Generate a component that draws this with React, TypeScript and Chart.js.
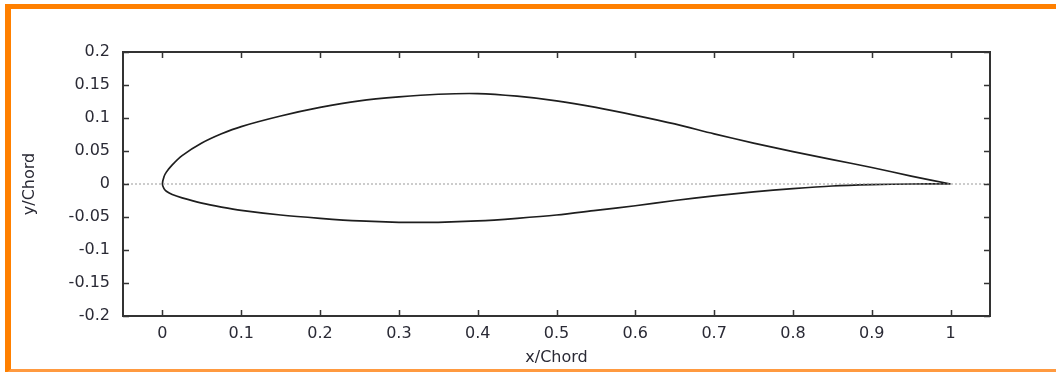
import React, { useEffect, useRef } from "react";
import { Chart, registerables } from "chart.js";

Chart.register(...registerables);

// Axis ticks
const xTicks = [0, 0.1, 0.2, 0.3, 0.4, 0.5, 0.6, 0.7, 0.8, 0.9, 1];
const yTicks = [-0.2, -0.15, -0.1, -0.05, 0, 0.05, 0.1, 0.15, 0.2];
const xRange = [-0.05, 1.05];
const yRange = [-0.2, 0.2];

// Airfoil surfaces (x/Chord, y/Chord)
const stationX = [0, 0.002, 0.005, 0.0125, 0.025, 0.05, 0.075, 0.1, 0.15, 0.2, 0.25, 0.3, 0.35, 0.4, 0.45, 0.5, 0.55, 0.6, 0.65, 0.7, 0.75, 0.8, 0.85, 0.9, 0.95, 1.0];
const upperY = [0, 0.011, 0.018, 0.029, 0.043, 0.062, 0.076, 0.087, 0.103, 0.116, 0.126, 0.132, 0.136, 0.137, 0.133, 0.126, 0.116, 0.104, 0.091, 0.076, 0.062, 0.049, 0.037, 0.025, 0.012, 0.0];
const lowerY = [0, -0.007, -0.011, -0.016, -0.021, -0.029, -0.035, -0.04, -0.047, -0.052, -0.056, -0.058, -0.058, -0.056, -0.052, -0.047, -0.04, -0.033, -0.025, -0.018, -0.012, -0.007, -0.003, -0.001, 0.0, 0.0];

// Chord line
const chordX = [-0.05, 1.05];
const chordY = [0, 0];

const fmt = (v: number) => String(Math.round(v * 100) / 100);
const tickFont = { family: "'DejaVu Sans', sans-serif", size: 16 };
const titleFont = { family: "'DejaVu Sans', sans-serif", size: 16 };
const textColor = "#2a2a35";

const framePlugin = {
  id: "frame",
  afterDatasetsDraw(chart: any) {
    const { ctx, chartArea } = chart;
    const { left, right, top, bottom } = chartArea;
    const xs = chart.scales.x;
    const ys = chart.scales.y;
    const tl = 6;
    ctx.save();
    ctx.strokeStyle = "#333";
    ctx.lineWidth = 1.5;
    ctx.beginPath();
    xTicks.forEach((v) => {
      const px = Math.round(xs.getPixelForValue(v)) + 0.5;
      ctx.moveTo(px, bottom);
      ctx.lineTo(px, bottom - tl);
      ctx.moveTo(px, top);
      ctx.lineTo(px, top + tl);
    });
    yTicks.forEach((v) => {
      const py = Math.round(ys.getPixelForValue(v)) + 0.5;
      ctx.moveTo(left, py);
      ctx.lineTo(left + tl, py);
      ctx.moveTo(right, py);
      ctx.lineTo(right - tl, py);
    });
    ctx.stroke();
    ctx.lineWidth = 2;
    ctx.strokeStyle = "#333";
    ctx.strokeRect(left, top, right - left, bottom - top);
    ctx.restore();
  },
};

export default function App() {
  const ref = useRef<HTMLCanvasElement>(null);

  useEffect(() => {
    const upperPts = stationX.map((x, i) => ({ x, y: upperY[i] })).reverse();
    const lowerPts = stationX.map((x, i) => ({ x, y: lowerY[i] })).slice(1);
    const airfoil = [...upperPts, ...lowerPts];
    const chord = chordX.map((x, i) => ({ x, y: chordY[i] }));

    const chart = new Chart(ref.current as HTMLCanvasElement, {
      type: "scatter",
      data: {
        datasets: [
          {
            data: chord,
            showLine: true,
            borderColor: "#9a9a9a",
            borderWidth: 1,
            borderDash: [2, 2],
            pointRadius: 0,
          },
          {
            data: airfoil,
            showLine: true,
            borderColor: "#1e1e1e",
            borderWidth: 1.7,
            pointRadius: 0,
            tension: 0.3,
          },
        ],
      },
      options: {
        animation: false,
        responsive: false,
        maintainAspectRatio: false,
        events: [],
        layout: { padding: { left: 20, right: 66, top: 52, bottom: 5 } },
        plugins: { legend: { display: false }, tooltip: { enabled: false } },
        scales: {
          x: {
            type: "linear",
            min: xRange[0],
            max: xRange[1],
            grid: { display: false, drawTicks: false },
            border: { display: false },
            afterBuildTicks: (s: any) => {
              s.ticks = xTicks.map((v) => ({ value: v }));
            },
            afterFit: (s: any) => {
              s.height = 51;
            },
            ticks: {
              autoSkip: false,
              maxRotation: 0,
              padding: 8,
              font: tickFont,
              color: textColor,
              callback: (v: any) => fmt(Number(v)),
            },
            title: { display: true, text: "x/Chord", font: titleFont, color: textColor, padding: 0 },
          },
          y: {
            type: "linear",
            min: yRange[0],
            max: yRange[1],
            grid: { display: false, drawTicks: false },
            border: { display: false },
            afterBuildTicks: (s: any) => {
              s.ticks = yTicks.map((v) => ({ value: v }));
            },
            afterFit: (s: any) => {
              s.width = 103;
            },
            ticks: {
              autoSkip: false,
              padding: 13,
              font: tickFont,
              color: textColor,
              callback: (v: any) => fmt(Number(v)),
            },
            title: { display: true, text: "y/Chord", font: titleFont, color: textColor, padding: 0 },
          },
        },
      },
      plugins: [framePlugin],
    });
    return () => chart.destroy();
  }, []);

  return (
    <div style={{ position: "fixed", left: 0, top: 0, width: 1056, height: 372, overflow: "hidden", background: "#fff" }}>
      <canvas ref={ref} width={1056} height={372} style={{ position: "absolute", left: 0, top: 0 }} />
      <div
        style={{
          position: "absolute",
          left: 5,
          top: 4,
          width: 1200,
          height: 370,
          boxSizing: "border-box",
          borderTop: "5px solid #ff8000",
          borderLeft: "6px solid #ff8000",
          borderBottom: "5px solid #ff9a40",
          pointerEvents: "none",
        }}
      />
    </div>
  );
}
